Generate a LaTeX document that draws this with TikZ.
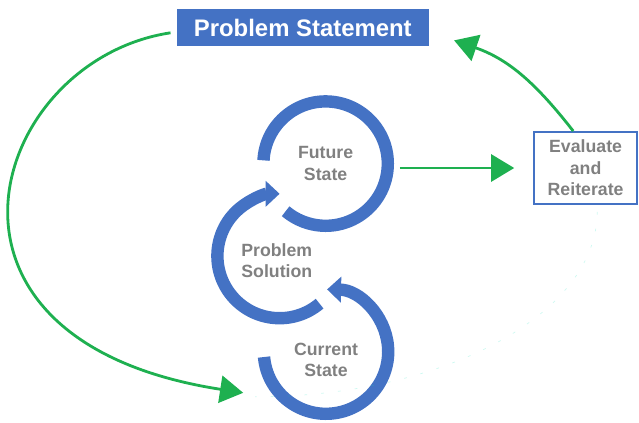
\documentclass[tikz,border=0pt]{standalone}
\usepackage{fontspec}
\setmainfont{Liberation Sans}
\usepackage{xcolor}
\usepackage{tikz}
\usetikzlibrary{arrows.meta,positioning,calc}

\definecolor{ringblue}{RGB}{68,114,196}
\definecolor{arrowgreen}{RGB}{30,176,80}
\definecolor{textgray}{RGB}{128,128,128}

\begin{document}
\begin{tikzpicture}[
    stage/.style={circle, minimum size=3.11cm, inner sep=0pt, outer sep=0pt},
    lbl/.style={align=center, text=textgray, font=\fontsize{12.6}{15.4}\selectfont\bfseries},
    ring/.style={draw=ringblue, line width=0.31cm},
    ringarrow/.style={ring, -{Triangle[length=0.35cm, width=0.63cm]}},
    garrow/.style={draw=arrowgreen, line width=2pt, -{Triangle[length=0.58cm, width=0.68cm]}}
]
    \useasboundingbox (0,0) rectangle (15.975,10.55);

    % Title and side box
    \node[fill=ringblue, text=white, minimum width=6.3cm, minimum height=0.925cm, inner sep=0pt,
          font=\fontsize{17}{20}\selectfont\bfseries] (stmt) at (7.57,9.86) {Problem Statement};
    \node[draw=ringblue, line width=1.4pt, minimum width=2.58cm, minimum height=1.8cm,
          inner sep=0pt, lbl] (eval) at (14.64,6.35) {Evaluate\\and\\Reiterate};

    % Three stages
    \node[stage] (fs) at (8.14,6.46) {};
    \node[stage] (ps) at (6.99,4.15) {};
    \node[stage] (cs) at (8.15,1.76) {};
    \node[lbl] (fstext) at (fs) {Future\\State};
    \node[lbl] (pstext) at ($(ps)+(-0.07,-0.12)$) {Problem\\Solution};
    \node[lbl] (cstext) at ($(cs)+(0,-0.21)$) {Current\\State};

    % Rings
    \draw[ring] (fs.177) arc[start angle=177, end angle=-130, radius=1.555];
    \draw[ringarrow] (ps.-50) arc[start angle=-50, end angle=-270, radius=1.555];
    \draw[ringarrow] (cs.185) arc[start angle=185, end angle=449, radius=1.555];

    % Green connectors
    \coordinate (back) at (6.08,0.73);
    \draw[garrow] ([xshift=-0.15cm, yshift=-0.13cm]stmt.west)
        .. controls +(-4.5,-0.675) and +(-8.575,1.325) .. (back);
    \draw[garrow] ($(fs.east |- eval.west)+(0.3,0)$) -- ([xshift=-0.47cm]eval.west);
    \draw[garrow] ([xshift=-0.31cm]eval.north) to[out=128, in=-19] ([shift={(0.625,0.15)}]stmt.south east);

    % Faint trace
    \draw[arrowgreen!40!cyan, opacity=0.2, line width=0.5pt, dash pattern=on 2pt off 10pt]
        ([shift={(0.29,-0.17)}]eval.south) .. controls +(0,-2.55) and +(4.725,0) .. ([shift={(0.3,-0.1)}]back);
\end{tikzpicture}
\end{document}
